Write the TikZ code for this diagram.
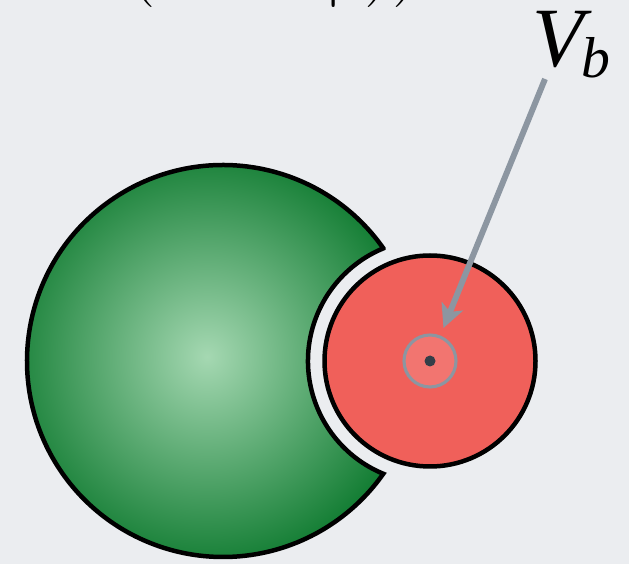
\documentclass[tikz,border=0pt]{standalone}
\usepackage{fontspec}
\newfontfamily\labelfont{Liberation Serif}
\usetikzlibrary{arrows.meta}
\definecolor{bgray}{HTML}{EBEDF0}
\definecolor{gdark}{HTML}{0E7A2F}
\definecolor{glight}{HTML}{A5D8B2}
\definecolor{rfill}{HTML}{F0605A}
\definecolor{rcore}{HTML}{F27570}
\definecolor{ringc}{HTML}{8C96A1}
\definecolor{dotc}{HTML}{343E48}
\tikzset{
  outline/.style={draw=black,line width=3.2pt},
  pointer/.style={-{Stealth[length=0.585cm,width=0.57cm,inset=0.15cm]},line width=4.2pt,draw=ringc,fill=ringc},
  bigtext/.style={inner sep=0,font=\Huge,scale=2.29}
}
\begin{document}
\begin{tikzpicture}[x=0.025cm,y=0.025cm]
  \useasboundingbox (0,0) rectangle (629,564);
  \fill[bgray] (0,0) rectangle (629,564);
  \coordinate (gc) at (223,203);
  \coordinate (rc) at (430,203);
  \draw[outline,path picture={\shade[inner color=glight,outer color=gdark] (207,204) circle[radius=215];}]
    ([shift={(35.13:196)}]gc)
    arc[start angle=35.13,end angle=324.87,radius=196]
    arc[start angle=247.5,end angle=112.5,radius=122] -- cycle;
  \filldraw[outline,fill=rfill] (rc) circle[radius=105.5];
  \node[circle,draw=ringc,line width=2.2pt,fill=rcore,minimum size=1.3cm,inner sep=0,outer sep=0] (core) at (rc) {};
  \fill[dotc] (core.center) circle[radius=5.5];
  \node[inner sep=0,anchor=base west,font=\labelfont\fontsize{60}{62}\selectfont\itshape] (vb) at (532.7,497.5)
    {V\kern-2.5pt\raisebox{-7.8pt}{\fontsize{41}{42}\selectfont b}};
  \node[bigtext,anchor=base west] (top) at (127,576) {(\hspace{51.6pt}|\kern6.2pt))};
  \coordinate (tail) at (545,485);
  \draw[pointer,shorten >=0.24cm] (tail) -- (core);
\end{tikzpicture}
\end{document}
